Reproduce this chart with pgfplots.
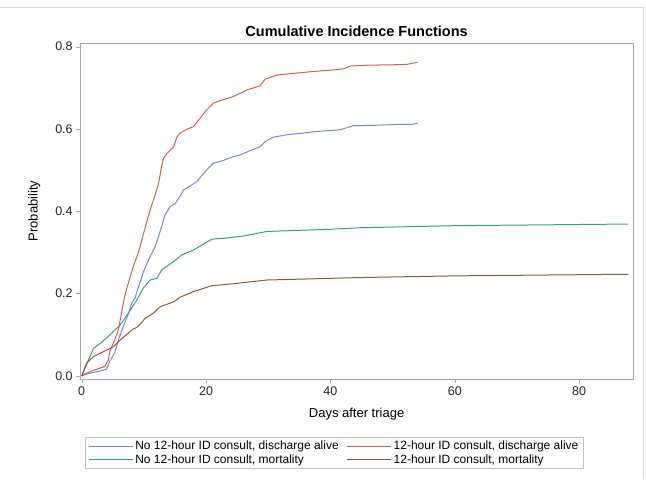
\documentclass[border=0pt]{standalone}
\usepackage{pgfplots}
\pgfplotsset{compat=1.18}
\usepackage{fontspec}
\setmainfont{Liberation Sans}
\definecolor{cblue}{RGB}{120,136,206}
\definecolor{cred}{RGB}{210,96,84}
\definecolor{cteal}{RGB}{56,158,142}
\definecolor{cbrown}{RGB}{136,94,54}
\definecolor{frame}{RGB}{170,170,170}
\begin{document}
\begin{tikzpicture}
\begin{axis}[
  name=ax, scale only axis, width=553pt, height=336pt,
  xmin=-0.24, xmax=88.66, ymin=-0.0073, ymax=0.809,
  xtick={0,20,40,60,80}, ytick={0,0.2,0.4,0.6,0.8},
  yticklabel style={/pgf/number format/.cd, fixed, fixed zerofill, precision=1},
  /pgf/number format/assume math mode=true,
  tick label style={font=\fontsize{12.5}{14}\selectfont, text=black!85},
  axis line style={frame}, tick style={frame}, tick align=outside,
  major tick length=4pt, xtick pos=bottom, ytick pos=left,
  title={\bfseries Cumulative Incidence Functions},
  title style={font=\fontsize{14.5}{16}\selectfont, yshift=-3pt},
  xlabel={Days after triage}, ylabel={Probability},
  label style={font=\fontsize{13}{15}\selectfont},
  xlabel style={yshift=-6pt}, ylabel style={yshift=8pt},
  legend columns=2,
  legend cell align=left,
  legend style={at={(0.009,-0.173)}, anchor=north west, draw=frame!70,
    font=\fontsize{12}{13}\selectfont, row sep=-1pt,
    /tikz/every even column/.append style={column sep=6pt}},
  legend image code/.code={\draw[#1,line width=1pt] (0pt,0pt) -- (44pt,0pt);},
  every axis plot/.append style={line width=1pt},
]
\addplot[cblue] coordinates {
(0,0) (1,0.005) (2,0.009) (3,0.012) (4,0.016) (4.5,0.035) (5.3,0.056)
(6.1,0.096) (6.9,0.128) (7.5,0.15) (8,0.175) (8.6,0.19) (9.1,0.215)
(10,0.255) (11,0.29) (11.7,0.31) (12.35,0.338) (13,0.37) (13.4,0.391)
(14.2,0.411) (15,0.418) (15.8,0.436) (16.4,0.452) (17.5,0.462) (18.5,0.472)
(19.5,0.49) (20.4,0.505) (21.2,0.517) (22.5,0.522) (24.4,0.533) (25.5,0.537)
(27,0.547) (28.7,0.557) (29.5,0.569) (30.8,0.58) (33,0.586) (36.2,0.591)
(37.8,0.594) (41.6,0.598) (42.6,0.603) (43.7,0.608) (47,0.609) (50.7,0.611)
(53,0.611) (54,0.614)};
\addplot[cred] coordinates {
(0,0) (1,0.008) (2,0.014) (3,0.019) (3.7,0.023) (4.3,0.039) (4.5,0.059)
(5.3,0.087) (5.9,0.112) (6.4,0.152) (6.9,0.193) (7.4,0.22) (8.3,0.266)
(9,0.295) (9.4,0.314) (10.2,0.36) (11,0.403) (11.6,0.43) (12.35,0.466)
(12.8,0.505) (13.15,0.528) (13.7,0.54) (14.8,0.557) (15.3,0.58) (15.8,0.59) (17,0.6)
(18,0.606) (19,0.625) (20,0.645) (21.2,0.663) (22.5,0.67) (24.4,0.679)
(26.6,0.695) (28.7,0.705) (29.5,0.721) (31.4,0.731) (34,0.735) (36.7,0.739)
(40,0.743) (42.1,0.746) (43.2,0.753) (46,0.755) (50,0.756) (52.3,0.757)
(54,0.762)};
\addplot[cteal] coordinates {
(0,0) (1,0.035) (1.9,0.067) (3,0.079) (4,0.092) (5.1,0.108) (6.2,0.124)
(7.3,0.148) (8.9,0.185) (9.9,0.213) (11,0.233) (12.1,0.237) (12.9,0.258)
(14.8,0.278) (16.1,0.294) (18,0.306) (20.9,0.332) (23.3,0.335) (26,0.34)
(29.8,0.351) (39.4,0.356) (44.8,0.36) (59.8,0.365) (87.9,0.369)};
\addplot[cbrown] coordinates {
(0,0) (0.8,0.031) (1.9,0.047) (3.5,0.059) (5.1,0.071) (6.2,0.087)
(8.1,0.112) (9.1,0.12) (10.2,0.14) (11.5,0.152) (12.6,0.168) (14.8,0.18)
(15.8,0.191) (18,0.205) (20.9,0.219) (24.4,0.224) (29.8,0.233)
(44.8,0.239) (59.8,0.243) (87.9,0.247)};
\legend{{No 12-hour ID consult, discharge alive},{12-hour ID consult, discharge alive},
  {No 12-hour ID consult, mortality},{12-hour ID consult, mortality}}
\end{axis}
% page frame: the whole image is 646 x 479
\path ([shift={(-80pt,-100pt)}]ax.south west) rectangle ([shift={(13pt,43pt)}]ax.north east);
\draw[black!15] ([shift={(-80pt,36pt)}]ax.north west) -- ([shift={(10pt,36pt)}]ax.north east)
  -- ([shift={(10pt,-100pt)}]ax.south east);
\end{tikzpicture}
\end{document}
